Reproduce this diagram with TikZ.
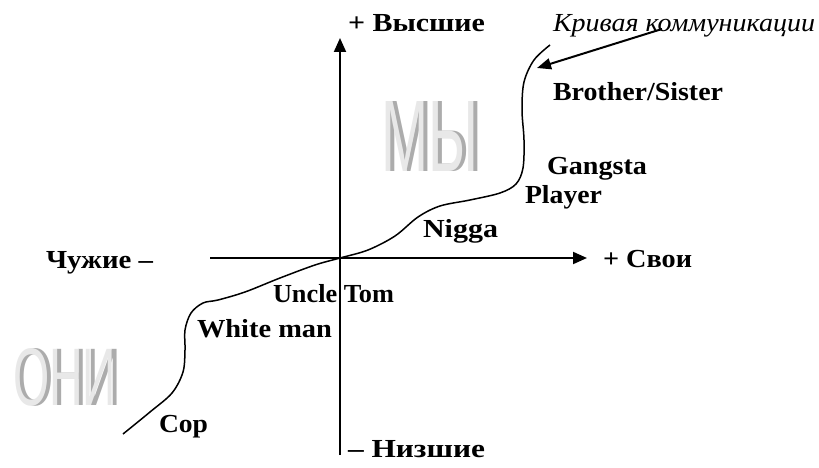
\documentclass[tikz,border=0pt]{standalone}
\usepackage{fontspec}
\setmainfont{Liberation Serif}
\newfontfamily\lsans{Liberation Sans}
\usetikzlibrary{arrows.meta}
\newcommand\fitw[2]{\resizebox{#1pt}{\height}{#2}}
\newcommand\shadowword[3]{%
  \makebox[0pt][l]{\hspace{4.5pt}\textcolor{gray!65}{\resizebox{#1pt}{#2pt}{#3}}}%
  \textcolor{gray!18}{\resizebox{#1pt}{#2pt}{#3}}}
\tikzset{
  lbl/.style={anchor=base west, inner sep=0pt, outer sep=0pt, font=\fontsize{26}{30}\selectfont\bfseries},
  ilbl/.style={anchor=base west, inner sep=0pt, outer sep=0pt, font=\fontsize{26}{30}\selectfont\itshape},
  axisline/.style={line width=2pt, -{Triangle[length=14pt,width=12pt]}},
  curveline/.style={line width=1.5pt},
  bigword/.style={anchor=north west, inner sep=0pt, outer sep=0pt, font=\fontsize{98}{100}\selectfont\lsans},
}
\begin{document}
\begin{tikzpicture}[x=1pt,y=-1pt]
\useasboundingbox (0,0) rectangle (819,468);
% axes
\coordinate (vbot) at (340,455);
\coordinate (vtop) at (340,38);
\coordinate (hleft) at (210,258);
\coordinate (hright) at (587,258);
\draw[axisline] (vbot) -- (vtop);
\draw[axisline] (hleft) -- (hright);
% big shaded words
\node[bigword] (my) at (381,101) {\shadowword{97}{70}{МЫ}};
\node[bigword] (oni) at (13,348) {\shadowword{103}{57}{ОНИ}};
% curve
\draw[curveline] plot[smooth, tension=0.55] coordinates {
 (123,434) (150,412) (172,393) (183,372) (185,350) (185,330) (191,313) (203,303) (218,300)
 (245,292) (280,278) (315,265) (340,258) (368,250) (395,236) (418,217) (440,206)
 (470,200) (500,193) (516,184) (523,168) (524,140) (522,110) (524,82) (534,60) (550,45)};
% labels
\node[lbl] (hi) at (348,32) {\fitw{137}{+ Высшие}};
\node[lbl] (lo) at (348,457) {\fitw{137}{– Низшие}};
\node[lbl] (own) at (603,267) {\fitw{89}{+ Свои}};
\node[lbl] (alien) at (46,268) {\fitw{107}{Чужие –}};
\node[ilbl] (curvelbl) at (553,32) {\fitw{262}{Кривая коммуникации}};
\node[lbl] (bro) at (553,100) {\fitw{170}{Brother/Sister}};
\node[lbl] (gang) at (547,174) {\fitw{100}{Gangsta}};
\node[lbl] (play) at (525,203) {\fitw{77}{Player}};
\node[lbl] (nig) at (423,237) {\fitw{75}{Nigga}};
\node[lbl] (uncle) at (273,302) {\fitw{121}{Uncle Tom}};
\node[lbl] (white) at (197,337) {\fitw{135}{White man}};
\node[lbl] (cop) at (159,432) {\fitw{49}{Cop}};
% pointer arrow
\coordinate (arrS) at (662,29);
\coordinate (arrE) at (537,68);
\draw[line width=2pt, -{Triangle[length=14pt,width=11pt]}] (arrS) -- (arrE);
\end{tikzpicture}
\end{document}
